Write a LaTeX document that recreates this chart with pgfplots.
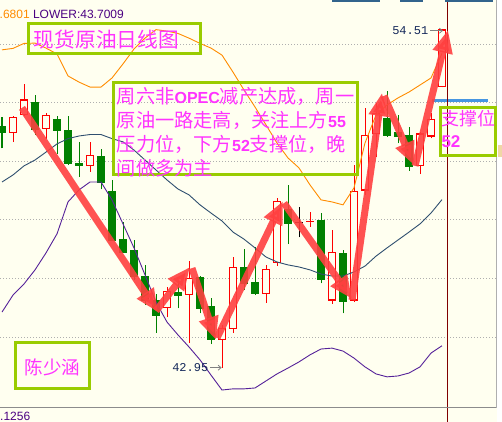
\documentclass[border=0pt]{standalone}
\usepackage{pgfplots}
\pgfplotsset{compat=1.18}
\usepackage{pgfplotstable}
\usetikzlibrary{arrows.meta}
\usepackage{fontspec}
\setmainfont{Liberation Sans}
\newfontfamily\cjk{Noto Sans CJK SC}
\newfontfamily\mono{Liberation Mono}

\definecolor{bg}{RGB}{255,255,240}
\definecolor{upc}{RGB}{255,0,0}
\definecolor{dnc}{RGB}{0,128,0}
\definecolor{upperc}{RGB}{255,140,0}
\definecolor{midc}{RGB}{47,79,111}
\definecolor{lowc}{RGB}{85,34,153}
\definecolor{gridc}{RGB}{175,175,175}
\definecolor{vlc}{RGB}{128,0,0}
\definecolor{boxc}{RGB}{153,204,0}
\definecolor{txtc}{RGB}{255,51,255}
\definecolor{arrc}{RGB}{255,64,64}
\definecolor{supc}{RGB}{70,150,225}
\definecolor{lblc}{RGB}{20,40,90}
\definecolor{hdrc}{RGB}{75,0,130}
\definecolor{tagc}{RGB}{240,215,165}
\definecolor{tbarc}{RGB}{50,100,140}

% daily candles: open, high, low, close; k = 0 up, 1 down, 2 flat (black)
\pgfplotstableread{
i o h l c k
0 51.18 51.50 50.44 50.97 1
1 50.99 51.53 50.65 51.50 0
2 51.60 52.62 51.54 52.09 0
3 52.01 52.26 50.89 51.09 1
4 51.12 51.66 50.75 51.55 0
5 51.43 51.54 50.25 51.04 1
6 51.06 51.54 49.87 49.93 1
7 49.94 50.67 49.47 49.85 1
8 49.84 50.67 49.64 50.20 0
9 50.18 50.42 49.04 49.27 1
10 48.96 49.36 47.28 47.31 1
11 47.34 47.94 46.87 46.88 1
12 46.97 47.31 45.95 46.08 1
13 46.08 46.46 45.09 45.24 1
14 45.26 45.47 44.15 44.72 1
15 45.01 45.72 44.67 45.55 0
16 45.53 45.91 44.98 45.43 1
17 45.46 46.59 43.79 46.00 0
18 46.04 46.08 44.81 44.98 1
19 45.06 45.32 43.76 43.92 1
20 43.92 44.41 42.95 44.28 0
21 44.30 46.72 44.13 46.38 0
22 46.38 47.00 45.60 45.83 1
23 45.87 47.06 45.43 45.49 1
24 45.49 46.46 45.17 46.31 0
25 46.54 48.74 46.42 48.62 0
26 48.37 49.19 47.17 47.88 1
27 47.91 48.45 47.40 47.91 2
28 47.94 48.28 47.76 47.94 0
29 47.97 48.22 45.83 45.97 1
30 45.26 47.65 45.13 46.89 0
31 46.86 46.97 44.81 45.20 1
32 45.26 49.87 45.19 48.96 0
33 49.02 51.81 48.85 50.89 0
34 50.95 51.98 50.15 51.63 0
35 51.46 52.41 50.84 50.89 1
36 50.97 51.58 50.61 50.86 1
37 50.89 51.18 49.68 49.81 1
38 49.84 51.01 49.56 50.93 0
39 50.86 51.63 50.78 51.43 0
40 52.54 54.51 52.52 54.48 0
}\ohlc

% Bollinger bands: upper, middle, lower
\pgfplotstableread{
i u m lo
0 53.80 49.29 44.85
1 53.85 49.53 45.43
2 54.02 49.84 45.81
3 54.03 50.04 46.29
4 53.86 50.31 46.87
5 53.66 50.59 47.52
6 52.91 50.77 48.61
7 52.70 50.86 49.02
8 52.53 50.91 49.29
9 52.53 50.91 49.29
10 52.84 50.77 48.68
11 53.32 50.66 47.86
12 53.83 50.38 47.04
13 54.20 50.04 46.12
14 54.49 49.70 45.19
15 54.44 49.36 44.51
16 54.36 49.05 44.07
17 54.20 48.85 43.66
18 54.02 48.51 43.22
19 53.86 48.23 42.70
20 53.62 47.96 42.19
21 53.04 47.58 42.23
22 52.43 47.34 42.23
23 51.85 47.04 42.26
24 51.24 46.73 42.50
25 50.62 46.56 42.74
26 50.11 46.46 42.94
27 49.77 46.39 43.15
28 49.19 46.29 43.39
29 48.68 46.15 43.59
30 48.61 46.08 43.62
31 48.51 46.08 43.52
32 49.09 46.22 43.28
33 50.62 46.42 42.98
34 51.58 46.76 42.74
35 51.92 47.04 42.64
36 52.16 47.31 42.67
37 52.36 47.58 42.77
38 52.60 47.86 42.98
39 52.84 48.23 43.45
40 53.68 48.69 43.70
}\bands

\tikzset{
  bigarrow/.style={draw=arrc, line width=7pt, opacity=0.9, line cap=butt,
    -{Triangle[length=23pt 0, width=19pt 0]}},
  greenbox/.style={draw=boxc, line width=3pt},
  btxt/.style={anchor=base west, inner sep=0pt, outer sep=0pt, text=txtc},
}

\begin{document}
\begin{tikzpicture}
\begin{axis}[
  scale only axis, width=502pt, height=422pt,
  xmin=-0.181818, xmax=45.454545,
  ymin=41.0990, ymax=55.5017,
  axis line style={draw=none},
  axis background/.style={fill=bg},
  xtick=\empty, ytick={44,46,...,54}, yticklabels={},
  major tick length=0pt,
  ymajorgrids,
  major grid style={gridc, dash pattern=on 1pt off 2pt, line width=0.8pt},
]
% candles
\pgfplotsforeachungrouped \kk in {0,...,40}{%
  \pgfplotstablegetelem{\kk}{i}\of\ohlc \let\cx\pgfplotsretval
  \pgfplotstablegetelem{\kk}{o}\of\ohlc \let\co\pgfplotsretval
  \pgfplotstablegetelem{\kk}{h}\of\ohlc \let\ch\pgfplotsretval
  \pgfplotstablegetelem{\kk}{l}\of\ohlc \let\cl\pgfplotsretval
  \pgfplotstablegetelem{\kk}{c}\of\ohlc \let\cc\pgfplotsretval
  \pgfplotstablegetelem{\kk}{k}\of\ohlc \let\ck\pgfplotsretval
  \pgfmathsetmacro\xa{\cx-0.35}%
  \pgfmathsetmacro\xb{\cx+0.35}%
  \ifcase\ck\relax
    \edef\cmd{\noexpand\draw[upc,line width=1pt] (axis cs:\cx,\cl) -- (axis cs:\cx,\ch);
      \noexpand\filldraw[draw=upc,fill=bg,line width=1.2pt] (axis cs:\xa,\co) rectangle (axis cs:\xb,\cc);}%
  \or
    \edef\cmd{\noexpand\draw[dnc,line width=1pt] (axis cs:\cx,\cl) -- (axis cs:\cx,\ch);
      \noexpand\filldraw[draw=dnc,fill=dnc,line width=0.8pt] (axis cs:\xa,\co) rectangle (axis cs:\xb,\cc);}%
  \else
    \edef\cmd{\noexpand\draw[black,line width=1pt] (axis cs:\cx,\cl) -- (axis cs:\cx,\ch);
      \noexpand\draw[black,line width=1.2pt] (axis cs:\xa,\co) -- (axis cs:\xb,\cc);}%
  \fi
  \cmd
}
% Bollinger bands
\addplot[upperc, line width=0.9pt, no marks] table[x=i, y=u]{\bands};
\addplot[midc, line width=0.9pt, no marks] table[x=i, y=m]{\bands};
\addplot[lowc, line width=0.9pt, no marks] table[x=i, y=lo]{\bands};
% support level
\addplot[supc, line width=3pt, no marks] coordinates {(39.06,52.08) (44.21,52.08)};
% current bar marker and bottom separator
\draw[vlc, line width=1.3pt] (axis cs:40.52,40) -- (axis cs:40.52,56);
\draw[gridc!80!black, line width=1pt] (axis cs:-1,41.587) -- (axis cs:46,41.587);
% swing arrows
\draw[bigarrow] (axis cs:1.82,51.82) -- (axis cs:14.18,44.85);
\draw[bigarrow] (axis cs:14.00,44.89) -- (axis cs:17.09,46.39);
\draw[bigarrow] (axis cs:17.27,46.35) -- (axis cs:19.45,43.90);
\draw[bigarrow] (axis cs:19.55,43.97) -- (axis cs:25.55,48.64);
\draw[bigarrow] (axis cs:25.64,48.57) -- (axis cs:31.82,45.30);
\draw[bigarrow] (axis cs:31.82,45.26) -- (axis cs:34.55,52.33);
\draw[bigarrow] (axis cs:34.73,52.23) -- (axis cs:37.45,49.87);
\draw[bigarrow] (axis cs:37.55,49.84) -- (axis cs:40.55,54.48);
\end{axis}

\begin{scope}[shift={(current axis.north west)}, x=1pt, y=-1pt]
  % price scale strip on the right
  \fill[white] (497,0) rectangle (503,423);
  \draw[gridc, line width=1pt] (496.7,0) -- (496.7,407.7);
  \fill[tagc] (497.5,145) rectangle (503,157);
  % top toolbar fragments
  \fill[tbarc] (331.7,0) rectangle (380,1.7);
  \fill[tbarc] (400,0) rectangle (423.3,1.7);
  \fill[tbarc] (445,0) rectangle (493.3,1.7);
  % indicator header and sub-window value
  \node[anchor=base west, inner sep=0pt, font=\fontsize{12}{12}\selectfont] at (-0.5,18.3)
    {\textcolor{upperc}{.6801} \textcolor{hdrc}{LOWER:43.7009}};
  \node[anchor=base west, inner sep=0pt, text=hdrc, font=\fontsize{12}{12}\selectfont] at (0,420.3) {.1256};
  % high / low labels
  \node[anchor=base east, inner sep=0pt, text=lblc, font=\mono\fontsize{12}{12}\selectfont] at (428.5,35) {54.51};
  \draw[gray, line width=0.8pt, -{Straight Barb[length=3pt, width=5pt]}] (430,30.7) -- (443,30.7);
  \node[anchor=base east, inner sep=0pt, text=lblc, font=\mono\fontsize{12}{12}\selectfont] at (208.5,372) {42.95};
  \draw[gray, line width=0.8pt, -{Straight Barb[length=3pt, width=5pt]}] (210,367.7) -- (221.7,367.7);
  % text boxes
  \draw[greenbox] (28.5,24) rectangle (200.5,53.5);
  \node[btxt, font=\cjk\fontsize{20.7}{20.7}\selectfont] at (34,47.8) {现货原油日线图};

  \draw[greenbox] (113.3,82.3) rectangle (357,174.7);
  \node[btxt, font=\cjk\fontsize{19.2}{19.2}\selectfont] at (117,103.2)
    {周六非{\rmfamily\bfseries\fontsize{16}{16}\selectfont OPEC}减产达成，周一};
  \node[btxt, font=\cjk\fontsize{19.2}{19.2}\selectfont] at (117,127.2)
    {原油一路走高，关注上方{\rmfamily\bfseries\fontsize{16}{16}\selectfont 55}};
  \node[btxt, font=\cjk\fontsize{19.2}{19.2}\selectfont] at (117,151.2)
    {压力位，下方{\rmfamily\bfseries\fontsize{16}{16}\selectfont 52}支撑位，晚};
  \node[btxt, font=\cjk\fontsize{19.2}{19.2}\selectfont] at (117,175.2) {间做多为主};

  \draw[greenbox] (440.3,108) rectangle (495.5,155.3);
  \node[btxt, font=\cjk\fontsize{18}{18}\selectfont] at (441,125.3) {支撑位};
  \node[btxt, font=\rmfamily\bfseries\fontsize{17}{17}\selectfont] at (441.5,147.3) {52};

  \draw[greenbox] (15.3,343) rectangle (89.5,388.7);
  \node[btxt, font=\cjk\fontsize{18.5}{18.5}\selectfont] at (24.5,374.4) {陈少涵};
\end{scope}
\pgfresetboundingbox
\useasboundingbox (current axis.south west) rectangle (current axis.north east);
\end{tikzpicture}
\end{document}
